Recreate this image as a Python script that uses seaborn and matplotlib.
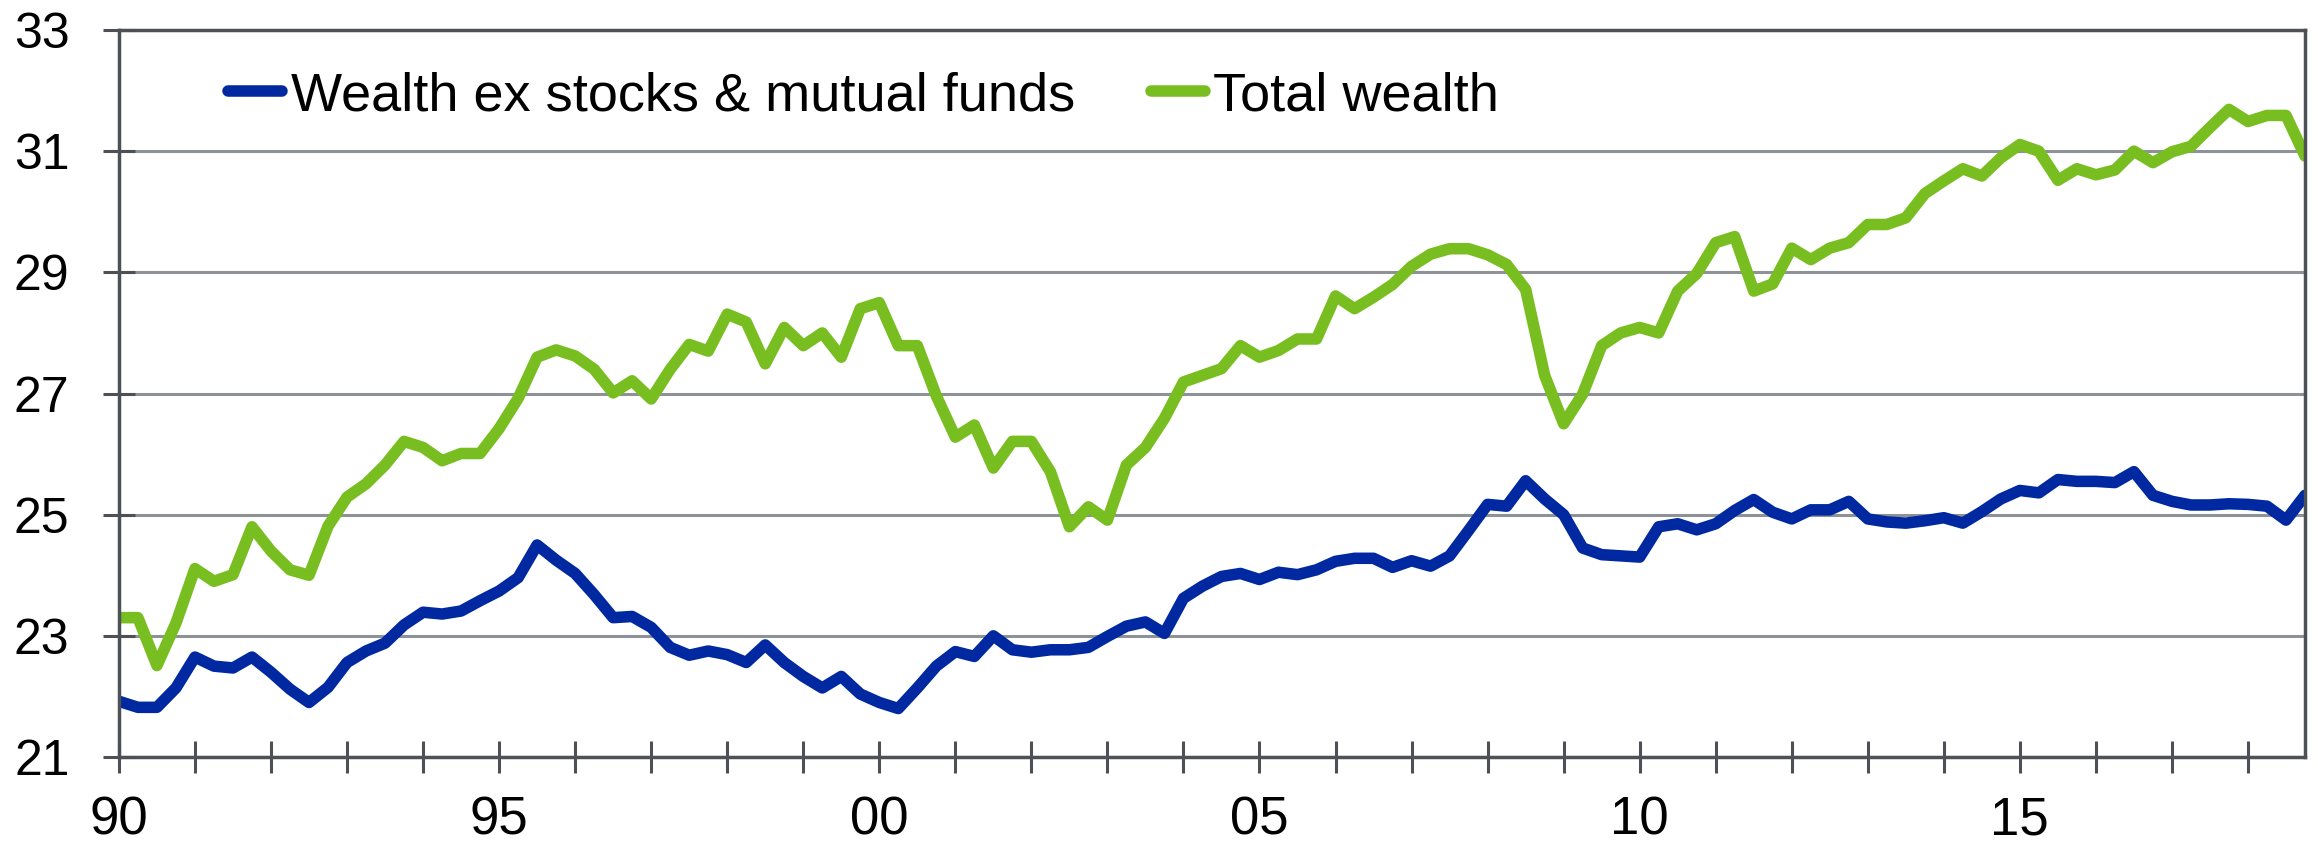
import numpy as np
import pandas as pd
from matplotlib import pyplot as plt
from matplotlib.ticker import MultipleLocator, FuncFormatter
import seaborn as sns

# quarterly, 1990Q1 .. 2018Q4
quarters = pd.period_range('1990Q1', '2018Q4', freq='Q')

wealth_ex_stocks = [
    21.92, 21.82, 21.82, 22.14, 22.65, 22.50, 22.47, 22.65, 22.40, 22.12,
    21.90, 22.15, 22.56, 22.75, 22.88, 23.18, 23.39, 23.36, 23.41, 23.58,
    23.74, 23.96, 24.50, 24.25, 24.03, 23.68, 23.30, 23.32, 23.14, 22.81,
    22.68, 22.75, 22.69, 22.56, 22.85, 22.56, 22.33, 22.14, 22.33, 22.04,
    21.90, 21.80, 22.14, 22.50, 22.74, 22.66, 23.00, 22.77, 22.73, 22.77,
    22.77, 22.81, 22.99, 23.16, 23.23, 23.04, 23.62, 23.82, 23.98, 24.03,
    23.93, 24.05, 24.01, 24.09, 24.23, 24.28, 24.28, 24.13, 24.24, 24.15,
    24.32, 24.74, 25.17, 25.14, 25.56, 25.26, 25.00, 24.45, 24.34, 24.32,
    24.30, 24.80, 24.85, 24.75, 24.85, 25.07, 25.25, 25.04, 24.93, 25.08,
    25.08, 25.22, 24.93, 24.88, 24.86, 24.90, 24.95, 24.86, 25.05, 25.26,
    25.40, 25.36, 25.58, 25.55, 25.55, 25.53, 25.71, 25.32, 25.22, 25.16,
    25.16, 25.18, 25.17, 25.14, 24.91, 25.32,
]

total_wealth = [
    23.30, 23.30, 22.51, 23.21, 24.11, 23.90, 24.01, 24.80, 24.40, 24.09,
    24.00, 24.81, 25.29, 25.51, 25.82, 26.21, 26.11, 25.89, 26.01, 26.01,
    26.42, 26.92, 27.60, 27.72, 27.62, 27.40, 27.01, 27.21, 26.91, 27.40,
    27.81, 27.70, 28.31, 28.18, 27.49, 28.09, 27.79, 28.00, 27.60, 28.40,
    28.50, 27.79, 27.79, 26.96, 26.28, 26.48, 25.77, 26.21, 26.21, 25.71,
    24.80, 25.13, 24.91, 25.82, 26.11, 26.59, 27.19, 27.30, 27.41, 27.79,
    27.60, 27.71, 27.90, 27.90, 28.61, 28.40, 28.59, 28.80, 29.10, 29.30,
    29.39, 29.39, 29.29, 29.13, 28.72, 27.30, 26.50, 26.99, 27.79, 28.00,
    28.09, 28.00, 28.69, 28.98, 29.49, 29.59, 28.69, 28.81, 29.40, 29.21,
    29.40, 29.49, 29.79, 29.79, 29.90, 30.30, 30.51, 30.71, 30.59, 30.89,
    31.11, 31.00, 30.52, 30.71, 30.61, 30.69, 31.00, 30.81, 30.99, 31.08,
    31.39, 31.69, 31.49, 31.59, 31.59, 30.92,
]

series_names = ['Wealth ex stocks & mutual funds', 'Total wealth']
colors = ['#0028a0', '#78be20']

x = quarters.year + (quarters.quarter - 1) / 4.0
df = pd.DataFrame({'date': x, series_names[0]: wealth_ex_stocks, series_names[1]: total_wealth})
df = pd.melt(df, id_vars=['date'], value_vars=series_names, var_name='series')

sns.set_style('white')
plt.rcParams['font.family'] = ['Liberation Sans', 'DejaVu Sans']
plt.rcParams['text.color'] = 'black'

fig = plt.figure(figsize=(23.18, 8.43), dpi=100)
ax = fig.add_subplot()
fig.subplots_adjust(left=0.0513, right=0.9944, top=0.9644, bottom=0.102)

ax.yaxis.grid(True, color='#8e9297', linewidth=2.2, zorder=0)
ax.set_axisbelow(True)

sns.lineplot(data=df, x='date', y='value', hue='series', palette=colors,
             linewidth=8.3, ax=ax, legend=False)

ax.set_xlim(1990, 2018.75)
ax.set_ylim(21, 33)
ax.set_yticks(np.arange(21, 34, 2))
ax.xaxis.set_major_locator(MultipleLocator(5))
ax.xaxis.set_minor_locator(MultipleLocator(1))
ax.xaxis.set_major_formatter(FuncFormatter(lambda v, p: '%02d' % (int(round(v)) % 100)))
ax.set_xlabel('')
ax.set_ylabel('')

spine_col = '#4d5156'
for s in ['left', 'bottom', 'top', 'right']:
    ax.spines[s].set_visible(True)
    ax.spines[s].set_color(spine_col)
    ax.spines[s].set_linewidth(2.5)

# seaborn's white style hides ticks, turn them back on
ax.tick_params(axis='x', which='both', bottom=True, top=False)
ax.tick_params(axis='y', which='both', left=True, right=False)
ax.tick_params(axis='both', which='both', direction='inout', length=23, width=2.2,
               color=spine_col, labelcolor='black')
ax.tick_params(axis='x', which='major', pad=16, labelsize=38)
ax.tick_params(axis='y', which='major', pad=24, labelsize=36)

handles = [plt.Line2D([], [], color=c, linewidth=8.3, solid_capstyle='round') for c in colors]
ax.legend(handles, series_names, loc='center left', bbox_to_anchor=(0.05, 0.909),
          ncol=2, frameon=False, fontsize=39, handlelength=1.0, handletextpad=0.15,
          columnspacing=1.4, borderpad=0, borderaxespad=0, labelcolor='black')

fig.savefig('out.png', dpi=100)
